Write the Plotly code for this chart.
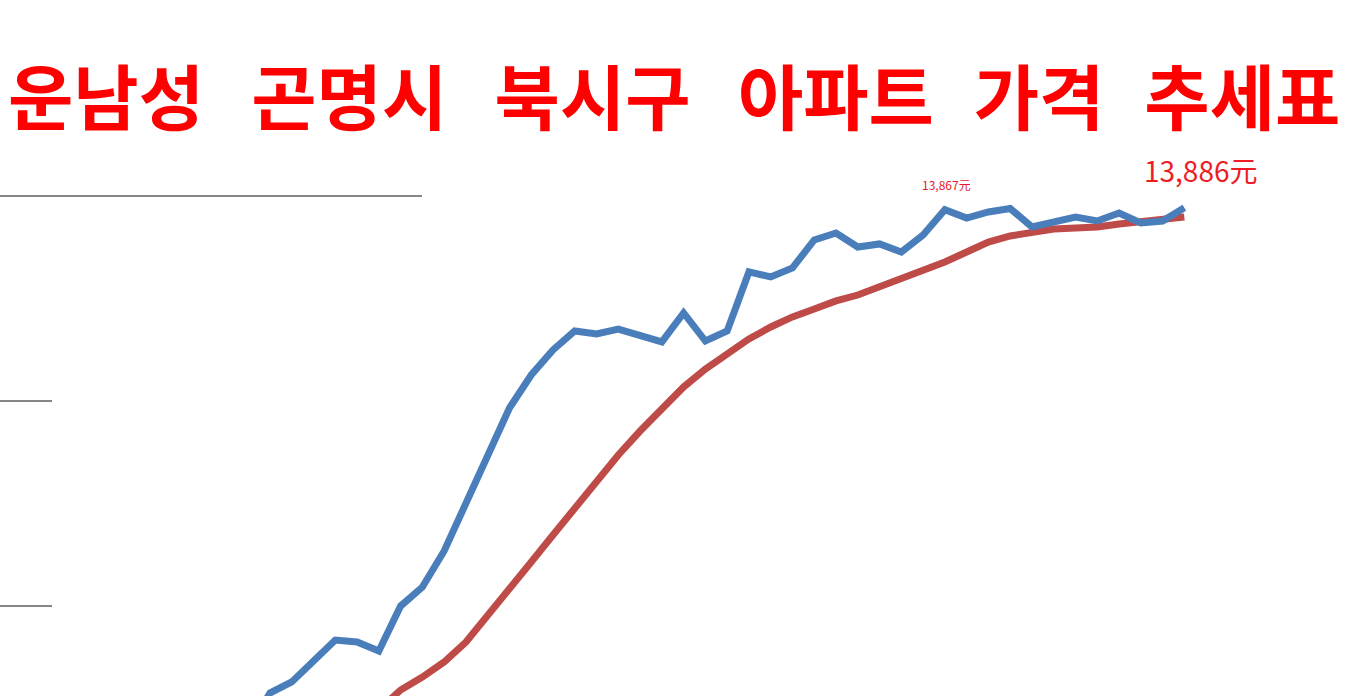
import plotly.graph_objects as go

# index of monthly points (0 = first point visible at left bottom)
idx = list(range(-2, 43))

blue_vals = [8600, 8800, 9151, 9259, 9463, 9668, 9649, 9561, 10000, 10185, 10537, 11015,
             11493, 11932, 12254, 12498, 12683, 12654, 12702, 12644, 12576, 12859, 12585,
             12683, 13259, 13210, 13298, 13571, 13639, 13502, 13532, 13454, 13620, 13867,
             13785, 13844, 13878, 13698, 13746, 13795, 13756, 13834, 13737, 13756, 13886]

red_vals = [8300, 8380, 8460, 8560, 8660, 8750, 8840, 8986, 9181, 9307, 9454, 9649,
            9902, 10156, 10429, 10693, 10956, 11220, 11473, 11707, 11932, 12137, 12312,
            12468, 12605, 12722, 12820, 12898, 12976, 13034, 13112, 13190, 13268, 13356,
            13454, 13551, 13610, 13649, 13678, 13688, 13698, 13727, 13746, 13776, 13795]

grid_values = [14000, 12000, 10000]
grid_ends = [422 / 1369, 52 / 1369, 52 / 1369]

title_text = ("운남성\u2002\u2006곤명시\u2002\u2006북시구\u2002\u2006아파트\u2002\u200a가격\u2002\u200a추세표")
last_label = "13,886元"
peak_label = "13,867元"
peak_index = 31

fig = go.Figure()
fig.add_trace(go.Scatter(x=idx, y=red_vals, mode="lines",
                         line=dict(color="#be4b48", width=7), hoverinfo="skip"))
fig.add_trace(go.Scatter(x=idx, y=blue_vals, mode="lines",
                         line=dict(color="#4a7ebb", width=7), hoverinfo="skip"))

shapes = []
for gv, ge in zip(grid_values, grid_ends):
    shapes.append(dict(type="line", xref="paper", yref="y", x0=0, x1=ge, y0=gv, y1=gv,
                       line=dict(color="#868686", width=2), layer="below"))

annotations = [
    dict(text=title_text, xref="paper", yref="paper", x=674 / 1369, y=1 - 93 / 696,
         xanchor="center", yanchor="middle", showarrow=False,
         font=dict(family="Noto Sans CJK KR", size=71, color="#ff0000", weight=700)),
    dict(text=last_label, x=idx[-1], y=blue_vals[-1], xref="x", yref="y",
         xanchor="center", yanchor="middle", xshift=17, yshift=38, showarrow=False,
         font=dict(family="Noto Sans CJK KR", size=28, color="#ee1c25")),
    dict(text=peak_label, x=peak_index, y=blue_vals[idx.index(peak_index)], xref="x", yref="y",
         xanchor="center", yanchor="middle", xshift=2, yshift=25, showarrow=False,
         font=dict(family="Noto Sans CJK KR", size=12, color="#e8192c")),
]

fig.update_layout(
    width=1369, height=696,
    margin=dict(l=0, r=0, t=0, b=0),
    paper_bgcolor="white", plot_bgcolor="white",
    showlegend=False,
    xaxis=dict(range=[-270 / 21.77, (1369 - 270) / 21.77], visible=False, fixedrange=True),
    yaxis=dict(range=[9122, 15912], visible=False, fixedrange=True),
    shapes=shapes,
    annotations=annotations,
)

fig.write_html("out.html", config={"displayModeBar": False},
               post_script="document.body.style.margin='0';document.body.style.overflow='hidden';")
